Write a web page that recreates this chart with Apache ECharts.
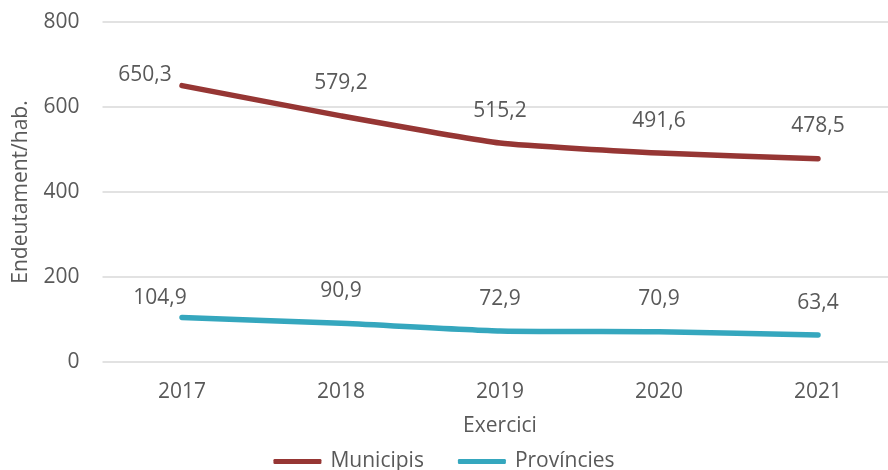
<!DOCTYPE html>
<html>
<head>
<meta charset="utf-8">
<script src="https://cdn.jsdelivr.net/npm/echarts@6/dist/echarts.min.js"></script>
<style>
html,body{margin:0;padding:0;background:#fff;}
#chart{width:888px;height:470px;}
</style>
</head>
<body>
<div id="chart"></div>
<script>
var categories = ['2017', '2018', '2019', '2020', '2021'];
var municipis = [650.3, 579.2, 515.2, 491.6, 478.5];
var provincies = [104.9, 90.9, 72.9, 70.9, 63.4];
var seriesNames = ['Municipis', 'Províncies'];
var yTicks = [0, 200, 400, 600, 800];
var yTitle = 'Endeutament/hab.';
var xTitle = 'Exercici';

// label nudges (layout only)
var munOffsets = [[-37, 22], [0, 0], [0, 0], [0, 0], [0, 0]];
var provOffsets = [[-22, 13], [0, 0], [0, 0], [0, 0], [0, 0]];

function fmt(v) { return v.toFixed(1).replace('.', ','); }
function build(values, offsets) {
  return values.map(function (v, i) {
    return { value: v, label: { offset: offsets[i] } };
  });
}

var FONT = '"Open Sans", sans-serif';
var FS = 21;
var TXT = '#595959';
var chart = echarts.init(document.getElementById('chart'), null, { renderer: 'canvas' });
var labelCfg = {
  show: true, position: 'top', distance: 22,
  color: TXT, fontFamily: FONT, fontSize: FS,
  formatter: function (p) { return fmt(p.value); }
};
chart.setOption({
  animation: false,
  backgroundColor: '#ffffff',
  grid: { left: 102.5, right: -9.5, top: 22, bottom: 108, containLabel: false, outerBoundsMode: 'none' },
  legend: {
    data: seriesNames,
    top: 446,
    left: 'center',
    itemWidth: 48,
    itemHeight: 5,
    itemGap: 34,
    icon: 'roundRect',
    textStyle: { color: TXT, fontFamily: FONT, fontSize: FS, padding: [0, 0, 0, 4] }
  },
  xAxis: {
    type: 'category',
    data: categories,
    boundaryGap: true,
    name: xTitle,
    nameLocation: 'middle',
    nameGap: 54,
    nameTextStyle: { color: TXT, fontFamily: FONT, fontSize: FS },
    axisLine: { show: false },
    axisTick: { show: false },
    axisLabel: { color: TXT, fontFamily: FONT, fontSize: FS, margin: 20 }
  },
  yAxis: {
    type: 'value',
    min: yTicks[0],
    max: yTicks[yTicks.length - 1],
    interval: 200,
    name: yTitle,
    nameLocation: 'middle',
    nameGap: 71,
    nameTextStyle: { color: TXT, fontFamily: FONT, fontSize: FS },
    axisLine: { show: false },
    axisTick: { show: false },
    axisLabel: { color: TXT, fontFamily: FONT, fontSize: FS, margin: 23 },
    splitLine: { lineStyle: { color: '#d9d9d9', width: 1.5 } }
  },
  series: [
    {
      name: seriesNames[0],
      type: 'line',
      data: build(municipis, munOffsets),
      symbol: 'circle',
      symbolSize: 0,
      showSymbol: true,
      smooth: 0.15,
      color: '#963634',
      lineStyle: { width: 5.5, color: '#963634', cap: 'round', join: 'round' },
      label: labelCfg
    },
    {
      name: seriesNames[1],
      type: 'line',
      data: build(provincies, provOffsets),
      symbol: 'circle',
      symbolSize: 0,
      showSymbol: true,
      smooth: 0.15,
      color: '#35a7be',
      lineStyle: { width: 5.5, color: '#35a7be', cap: 'round', join: 'round' },
      label: labelCfg
    }
  ]
});
</script>
</body>
</html>
